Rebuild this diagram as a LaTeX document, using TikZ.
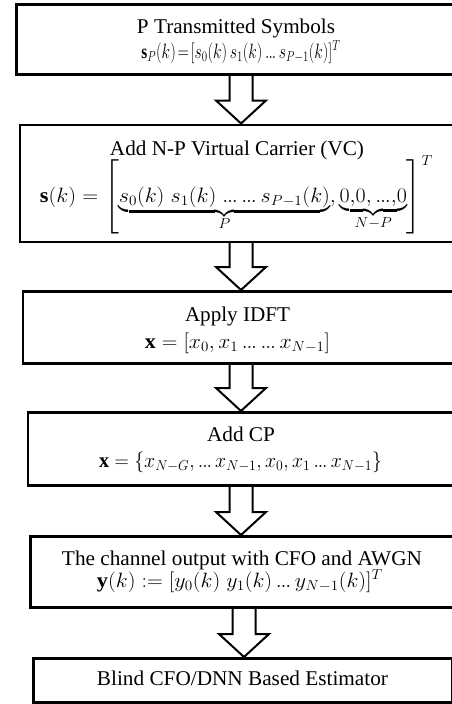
\documentclass[tikz,border=0pt]{standalone}
\usepackage{amsmath}
\usepackage{graphicx}
\usepackage{fontspec}
\setmainfont{Liberation Serif}
\usetikzlibrary{calc}

% stretch one line of text to the width it has in the figure
\newcommand{\fitw}[2]{\resizebox{#1pt}{\height}{#2}}
% tight ellipsis
\newcommand{\dts}{\mathord{.\mkern-1mu.\mkern-1mu.}}

% fat block arrow: from box, to box, centre x
\newcommand{\fatarrow}[3]{%
  \draw[arr] let \p1=(#1.south), \p2=(#2.north) in
    (#3pt-11.5pt,\y1) -- (#3pt-11.5pt,\y2+23pt) -- (#3pt-25pt,\y2+23pt)
    -- (#3pt,\y2) -- (#3pt+25pt,\y2+23pt) -- (#3pt+11.5pt,\y2+23pt)
    -- (#3pt+11.5pt,\y1);}

\begin{document}
\begin{tikzpicture}[x=1pt, y=-1pt,
    box/.style={draw, line width=2.6pt, anchor=north west, inner sep=0pt},
    txt/.style={anchor=base, inner sep=0pt, font=\fontsize{21}{25}\selectfont},
    arr/.style={line width=2pt, line join=miter}]

    \useasboundingbox (0,0) rectangle (452,704);
    \clip (0,0) rectangle (452,704);

    \node [box, minimum width=440, minimum height=70] (b1) at (15, 3) {};
    \node [box, minimum width=437, minimum height=117] (b2) at (18.5, 123.5) {};
    \node [box, minimum width=431, minimum height=72] (b3) at (21.7, 290) {};
    \node [box, minimum width=428, minimum height=73] (b4) at (26.7, 411) {};
    \node [box, minimum width=426, minimum height=71] (b5) at (29.3, 535) {};
    \node [box, minimum width=419, minimum height=44] (b6) at (32.3, 657) {};

    \node [txt] (t1a) at (236, 34) {\fitw{198}{P Transmitted Symbols}};
    \node [txt, font=\fontsize{20}{24}\selectfont] (t1b) at (241, 58)
      {\fitw{199}{$\mathbf{s}_P(k)\!=\![s_0(k)\,s_1(k)\,\dts\,s_{P-1}(k)]^T$}};

    \node [txt] (t2a) at (237, 155) {\fitw{254}{Add N-P Virtual Carrier (VC)}};
    \node [txt] (t2b) at (236.5, 202)
      {\fitw{393}{$\mathbf{s}(k) = \left[\underbrace{s_0(k)\; s_1(k)\; \dts\, \dts\, s_{P-1}(k)}_{P}, \underbrace{0,\!0, \dts ,\!0}_{N-P}\right]^T$}};

    \node [txt] (t3a) at (237.5, 321) {\fitw{105}{Apply IDFT}};
    \node [txt] (t3b) at (237.5, 348)
      {\fitw{185}{$\mathbf{x} = [x_0, x_1\, \dts\, \dts\, x_{N-1}]$}};

    \node [txt] (t4a) at (241, 441) {\fitw{68}{Add CP}};
    \node [txt] (t4b) at (240.5, 467)
      {\fitw{283}{$\mathbf{x} =\{x_{N-G}, \dts\, x_{N-1}, x_0, x_1\, \dts\, x_{N-1}\}$}};

    \node [txt] (t5a) at (242, 565) {\fitw{360}{The channel output with CFO and AWGN}};
    \node [txt] (t5b) at (240, 587)
      {\fitw{286}{$\mathbf{y}(k) := [y_0(k)\; y_1(k)\, \dts\, y_{N-1}(k)]^T$}};

    \node [txt] (t6) at (242.5, 685) {\fitw{291}{Blind CFO/DNN Based Estimator}};

    \fatarrow{b1}{b2}{241}
    \fatarrow{b2}{b3}{241}
    \fatarrow{b3}{b4}{241}
    \fatarrow{b4}{b5}{241}
    \fatarrow{b5}{b6}{244}

  \end{tikzpicture}
\end{document}
